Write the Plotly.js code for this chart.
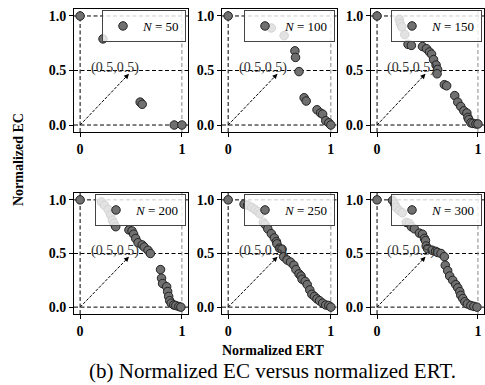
<!DOCTYPE html>
<html>
<head>
<meta charset="utf-8">
<script src="https://cdn.plot.ly/plotly-3.0.1.min.js"></script>
<style>html,body{margin:0;padding:0;background:#fff;}#chart{width:485px;height:385px;}</style>
</head>
<body>
<div id="chart"></div>
<script>
// ---- data ----
const sizesN = [50, 100, 150, 200, 250, 300];
const ert50 = [0, 0.225, 0.59, 0.61, 0.925, 1.0];
const ec50  = [1, 0.79, 0.21, 0.19, 0.0, 0.0];
const ert100 = [0, 0.42, 0.545, 0.65, 0.656, 0.69, 0.74, 0.76, 0.865, 0.90, 0.92, 0.95, 0.98, 1.0];
const ec100  = [1, 0.89, 0.82, 0.68, 0.62, 0.49, 0.25, 0.22, 0.14, 0.11, 0.10, 0.04, 0.02, 0.0];
const ert150 = [0, 0.22, 0.23, 0.245, 0.275, 0.307, 0.34, 0.45, 0.49, 0.52, 0.54, 0.56, 0.585, 0.60, 0.595, 0.667, 0.69, 0.77, 0.80, 0.83, 0.86, 0.89, 0.90, 0.91, 0.93, 0.95, 0.98, 1.0];
const ec150  = [1, 0.97, 0.93, 0.90, 0.83, 0.74, 0.73, 0.72, 0.70, 0.67, 0.65, 0.60, 0.55, 0.51, 0.47, 0.37, 0.36, 0.27, 0.21, 0.17, 0.13, 0.11, 0.07, 0.05, 0.02, 0.015, 0.01, 0.01];
const ert200 = [0, 0.21, 0.24, 0.275, 0.30, 0.317, 0.333, 0.35, 0.48, 0.51, 0.526, 0.546, 0.57, 0.61, 0.63, 0.667, 0.69, 0.79, 0.80, 0.81, 0.85, 0.86, 0.87, 0.88, 0.895, 0.92, 0.94, 0.97, 0.99];
const ec200  = [1, 0.98, 0.95, 0.91, 0.86, 0.81, 0.78, 0.75, 0.72, 0.71, 0.68, 0.64, 0.60, 0.58, 0.56, 0.53, 0.50, 0.35, 0.27, 0.22, 0.19, 0.145, 0.10, 0.06, 0.037, 0.02, 0.015, 0.006, 0.0];
const ert250 = [0, 0.155, 0.19, 0.23, 0.26, 0.29, 0.31, 0.343, 0.36, 0.386, 0.42, 0.45, 0.47, 0.475, 0.50, 0.525, 0.54, 0.574, 0.607, 0.64, 0.66, 0.69, 0.71, 0.72, 0.75, 0.77, 0.795, 0.815, 0.84, 0.865, 0.89, 0.92, 0.95, 0.98, 1.0];
const ec250  = [1, 0.96, 0.95, 0.93, 0.91, 0.89, 0.87, 0.79, 0.77, 0.73, 0.685, 0.645, 0.61, 0.59, 0.55, 0.54, 0.47, 0.44, 0.42, 0.39, 0.35, 0.31, 0.29, 0.26, 0.24, 0.21, 0.16, 0.12, 0.10, 0.077, 0.06, 0.037, 0.02, 0.015, 0.0];
const ert300 = [0, 0.154, 0.176, 0.19, 0.22, 0.25, 0.29, 0.32, 0.34, 0.37, 0.42, 0.45, 0.47, 0.48, 0.487, 0.50, 0.546, 0.58, 0.60, 0.634, 0.667, 0.676, 0.70, 0.72, 0.75, 0.78, 0.80, 0.82, 0.83, 0.85, 0.87, 0.895, 0.93, 0.96, 0.99];
const ec300  = [1, 0.995, 0.96, 0.93, 0.90, 0.88, 0.79, 0.78, 0.75, 0.73, 0.69, 0.68, 0.64, 0.62, 0.57, 0.545, 0.53, 0.52, 0.51, 0.50, 0.47, 0.39, 0.34, 0.29, 0.25, 0.21, 0.18, 0.145, 0.11, 0.08, 0.05, 0.03, 0.015, 0.007, 0.0];
const xTickVals = [0, 1];
const xTickText = ['0', '1'];
const yTickVals = [0, 0.5, 1];
const yTickText = ['0.0', '0.5', '1.0'];
const annoText = '(0.5,0.5)';
const yTitle = 'Normalized EC';
const xTitle = 'Normalized ERT';
const caption = '(b) Normalized EC versus normalized ERT.';

const ERT = [ert50, ert100, ert150, ert200, ert250, ert300];
const EC = [ec50, ec100, ec150, ec200, ec250, ec300];

// ---- layout geometry (pixels) ----
const W = 485, H = 385;
const colPx = [[74, 188], [222, 337], [371, 484]];
const rowPx = [[9, 132], [193, 314]];
const FONT = '"Liberation Serif", "DejaVu Serif", serif';
const DASH = '4px,2.5px';

const traces = [];
const layout = {
  width: W, height: H,
  margin: {l: 0, r: 0, t: 0, b: 0},
  paper_bgcolor: '#fff', plot_bgcolor: '#fff',
  font: {family: FONT, color: '#000'},
  shapes: [], annotations: []
};

for (let i = 0; i < 6; i++) {
  const r = Math.floor(i / 3), c = i % 3;
  const sfx = i === 0 ? '' : String(i + 1);
  const xa = 'xaxis' + sfx, ya = 'yaxis' + sfx;
  const xr = 'x' + sfx, yr = 'y' + sfx;
  const lg = i === 0 ? 'legend' : 'legend' + (i + 1);
  traces.push({
    type: 'scatter', mode: 'markers',
    x: ERT[i], y: EC[i], xaxis: xr, yaxis: yr,
    name: '<i>N</i> = ' + sizesN[i],
    legend: lg, showlegend: true, cliponaxis: false,
    marker: {size: 8.5, color: '#707070', line: {color: '#222', width: 1}}
  });
  const axCommon = {
    showgrid: false, zeroline: false, showline: true, mirror: true,
    linecolor: '#000', linewidth: 1, ticks: 'outside', ticklen: 4,
    tickcolor: '#000', tickwidth: 1,
    tickfont: {family: FONT, size: 14, color: '#000', weight: 'bold'}
  };
  layout[xa] = Object.assign({}, axCommon, {
    domain: [colPx[c][0] / W, colPx[c][1] / W], range: [-0.06, 1.06],
    anchor: yr, tickmode: 'array', tickvals: xTickVals, ticktext: xTickText
  });
  layout[ya] = Object.assign({}, axCommon, {
    domain: [1 - rowPx[r][1] / H, 1 - rowPx[r][0] / H], range: [-0.064, 1.064],
    anchor: xr, tickmode: 'array', tickvals: yTickVals, ticktext: yTickText
  });
  layout[lg] = {
    x: (colPx[c][1] - 2) / W, y: 1 - (rowPx[r][0] + 1) / H,
    xanchor: 'right', yanchor: 'top',
    bgcolor: 'rgba(255,255,255,0.8)', bordercolor: '#444', borderwidth: 1,
    font: {family: FONT, size: 13, color: '#000'},
    itemsizing: 'trace', itemwidth: 30
  };
  const xd = xr + ' domain', yd = yr + ' domain';
  [0, 0.5, 1].forEach(v => layout.shapes.push({
    type: 'line', xref: xd, yref: yr, x0: 0, x1: 1, y0: v, y1: v,
    layer: 'below', line: {color: '#000', width: 1, dash: DASH}
  }));
  layout.shapes.push({
    type: 'line', xref: xr, yref: yd, x0: 0, x1: 0, y0: 0, y1: 1,
    layer: 'below', line: {color: '#000', width: 1, dash: DASH}
  });
  layout.shapes.push({
    type: 'line', xref: xr, yref: yd, x0: 1, x1: 1, y0: 0, y1: 1,
    layer: 'below', line: {color: '#888', width: 1, dash: DASH}
  });
  // arrow shaft
  layout.shapes.push({
    type: 'line', xref: xr, yref: yr, x0: 0, y0: 0, x1: 0.46, y1: 0.45,
    layer: 'above', line: {color: '#000', width: 1, dash: '3px,1.5px'}
  });
  // arrow head
  layout.annotations.push({
    xref: xr, yref: yr, axref: xr, ayref: yr,
    x: 0.48, y: 0.47, ax: 0.43, ay: 0.42, text: ' ',
    showarrow: true, arrowhead: 2, arrowsize: 1, arrowwidth: 1, arrowcolor: '#000', standoff: 0
  });
  layout.annotations.push({
    xref: xr, yref: yr, x: 0.34, y: 0.52, text: annoText,
    showarrow: false, xanchor: 'center', yanchor: 'middle',
    font: {family: FONT, size: 14, color: '#333'}
  });
}

layout.annotations.push({
  xref: 'paper', yref: 'paper', x: 18 / W, y: 1 - 160 / H, text: yTitle,
  textangle: -90, showarrow: false, xanchor: 'center', yanchor: 'middle',
  font: {family: FONT, size: 14, color: '#000', weight: 'bold'}
});
layout.annotations.push({
  xref: 'paper', yref: 'paper', x: 273 / W, y: 1 - 350 / H, text: xTitle,
  showarrow: false, xanchor: 'center', yanchor: 'middle',
  font: {family: FONT, size: 14, color: '#000', weight: 'bold'}
});
layout.annotations.push({
  xref: 'paper', yref: 'paper', x: 272 / W, y: 1 - 371 / H, text: caption,
  showarrow: false, xanchor: 'center', yanchor: 'middle',
  font: {family: FONT, size: 21, color: '#000'}
});

Plotly.newPlot('chart', traces, layout, {displayModeBar: false, staticPlot: true});
</script>
</body>
</html>
